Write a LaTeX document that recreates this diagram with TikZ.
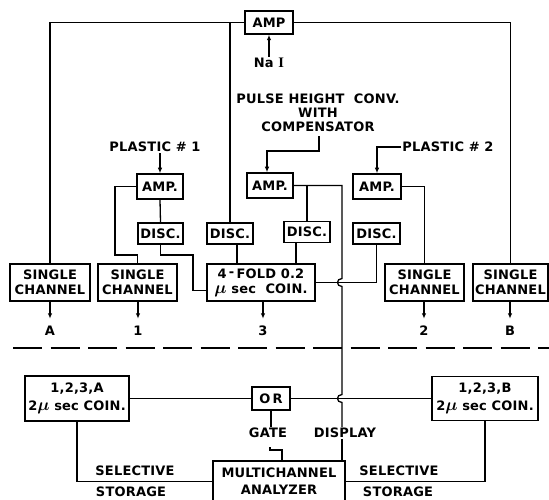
\documentclass[tikz,border=0pt]{standalone}
\usepackage{fontspec}
\setmainfont{DejaVu Sans}[LetterSpace=1.5]
\newfontfamily\serifI{Liberation Serif}
\usetikzlibrary{arrows.meta,calc}
\begin{document}
\begin{tikzpicture}[x=1pt,y=-1pt,
  every node/.style={font=\fontsize{13}{15}\selectfont\bfseries, inner sep=1pt},
  box/.style={draw, line width=1.5pt, inner sep=0pt, align=center},
  wire/.style={line width=1.3pt},
  arr/.style={wire,-{Latex[length=5.5pt,width=4.5pt]}},
  lbl/.style={inner sep=1pt, align=center}]
\useasboundingbox (0,0) rectangle (549,500);
\clip (0,0) rectangle (549,500);
\newcommand{\mymu}{{\fontsize{16}{16}\selectfont\boldmath$\mu$}}
% top part
\node[box, minimum width=48pt, minimum height=23pt] (ampT) at (269,22.5) {AMP};
\node[lbl] (nai) at (269,63) {Na\ {\serifI\fontsize{14.5}{15}\selectfont\bfseries I}};
\node[lbl, font=\fontsize{13}{14}\selectfont\bfseries] (pulse) at (318,113) {PULSE HEIGHT\ \ CONV.\\WITH\\COMPENSATOR};
\node[box, minimum width=46pt, minimum height=25pt] (ampM) at (270,185.5) {AMP.};
\node[box, minimum width=46pt, minimum height=25pt] (ampL) at (160,186.5) {AMP.};
\node[box, minimum width=48pt, minimum height=25pt] (ampR) at (377,186.5) {AMP.};
\node[lbl] (pl1) at (155,147) {PLASTIC \# 1};
\node[lbl] (pl2) at (448,147) {PLASTIC \# 2};
\node[box, minimum width=45pt, minimum height=21pt] (discL) at (160.5,233.5) {DISC.};
\node[box, minimum width=46pt, minimum height=21pt] (discA) at (230,233.5) {DISC.};
\node[box, minimum width=46pt, minimum height=21pt] (discM) at (307,232) {DISC.};
\node[box, minimum width=47pt, minimum height=21pt] (discR) at (376.5,233.5) {DISC.};
\node[box, minimum width=80pt, minimum height=37pt] (scA) at (50,282.5) {SINGLE\\CHANNEL};
\node[box, minimum width=79pt, minimum height=37pt] (sc1) at (137.5,282.5) {SINGLE\\CHANNEL};
\node[box, minimum width=108pt, minimum height=37pt] (coin4) at (261,282.5) {4\,\raisebox{2pt}{-}\,FOLD\ 0.2\\\mymu\ sec\ \ COIN.};
\node[box, minimum width=79pt, minimum height=37pt] (sc2) at (424.5,282.5) {SINGLE\\CHANNEL};
\node[box, minimum width=75pt, minimum height=37pt] (scB) at (510.5,282.5) {SINGLE\\CHANNEL};
\node[lbl] (lA) at (50,331) {A};
\node[lbl] (l1) at (138,331) {1};
\node[lbl] (l3) at (263,331) {3};
\node[lbl] (l2) at (424,331) {2};
\node[lbl] (lB) at (510,331) {B};
% lower part
\node[box, minimum width=104pt, minimum height=45pt, font=\fontsize{13}{18}\selectfont\bfseries] (coinA) at (77,398.5) {1,2,3,A\\2\mymu\ sec\ COIN.};
\node[box, minimum width=38pt, minimum height=23pt] (orb) at (271,398.5) {O\,R};
\node[box, minimum width=106pt, minimum height=44pt, font=\fontsize{13}{18}\selectfont\bfseries] (coinB) at (485,398.5) {1,2,3,B\\2\mymu\ sec\ COIN.};
\node[lbl] (gate) at (268,433) {GATE};
\node[lbl] (disp) at (345,433) {DISPLAY};
\node[box, minimum width=132pt, minimum height=41pt, font=\fontsize{13}{17}\selectfont\bfseries] (mca) at (279,481.5) {MULTICHANNEL\\ANALYZER};
\node[lbl] (selL) at (135,471) {SELECTIVE};
\node[lbl] (stoL) at (131,492) {STORAGE};
\node[lbl] (selR) at (399,471) {SELECTIVE};
\node[lbl] (stoR) at (398,492) {STORAGE};
\coordinate (vx) at (342,0);
% connectors
\draw[wire] (ampT.west) -| (scA.north);
\draw[wire] (discA.north) -- (discA.north |- ampT.west);
\draw[wire] (ampT.east) -| (scB.north);
\draw[arr] (nai.north) -- (ampT.south);
\draw[arr] ($(pulse.south)+(1,3)$) -- ++(0,15) -| ($(ampM.north)+(-3,0)$);
\draw[arr] (pl1.south -| ampL.north) -- (ampL.north);
\draw[arr] (pl2.west) -| (ampR.north);
\draw[wire] (ampL.west) -| (115,255) -| (sc1.north);
\draw[wire] (ampL.south) -- (discL.north);
\draw[wire] (discL.south) |- (193,255) |- ($(coin4.west)+(0,8)$);
\draw[wire] ($(discA.south)+(7,0)$) -- ($(coin4.north)+(-24,0)$);
\draw[wire] ($(discM.south)+(-11,0)$) -- ($(coin4.north)+(35,0)$);
\draw[wire] (discM.north) -- (discM.north |- ampM.east);
\draw[wire] (ampM.east) -- (342,185.5) -- (342,278.5)
  .. controls (336,278.5) and (336,286.5) .. (342,286.5) -- (342,394.5)
  .. controls (336,394.5) and (336,402.5) .. (342,402.5) -- (disp.north -| vx);
\draw[wire] (disp.south -| vx) -- (mca.north -| vx);
\draw[wire] (coin4.east) -| (discR.south);
\draw[wire] (ampR.east) -| (sc2.north);
\foreach \b/\l in {scA/lA, sc1/l1, sc2/l2, scB/lB}
  \draw[arr] (\b.south -| \l.north) -- ++(0,17);
\draw[arr] (coin4.south -| l3.north) -- ++(0,17);
\draw[line width=1.3pt, dash pattern=on 29pt off 8.5pt] (13,348) -- (549,348);
\draw[wire] (coinA.east) -- (orb.west);
\draw[wire] (orb.east) -- (coinB.west);
\draw[wire] (orb.south) -- (orb.south |- gate.north);
\draw[wire] ($(gate.south)+(2,8)$) -- ++(0,3) -| ($(mca.north)+(3,0)$);
\draw[wire] (coinA.south) |- (mca.west);
\draw[wire] (coinB.south) |- (mca.east);
\end{tikzpicture}
\end{document}
